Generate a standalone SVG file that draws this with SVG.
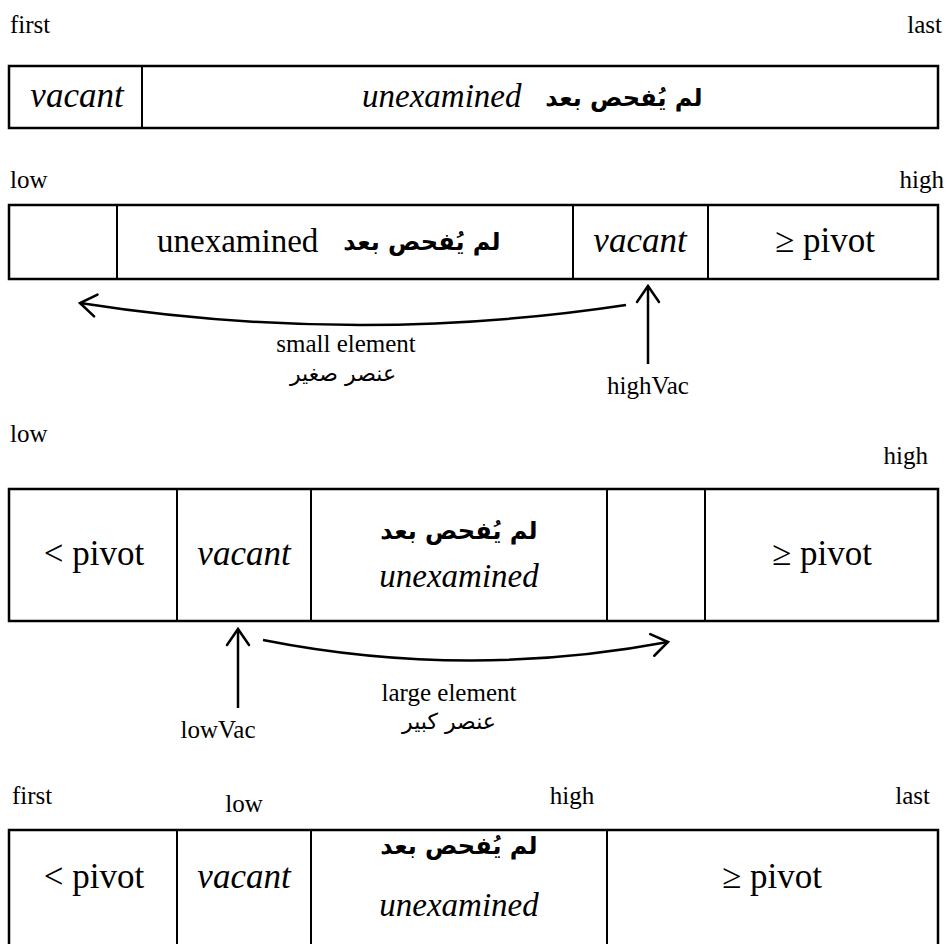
<svg xmlns="http://www.w3.org/2000/svg" width="947" height="944" viewBox="0 0 947 944">
  <style>
    .box { fill: #fff; stroke: #000; stroke-width: 2.5; }
    .div { stroke: #000; stroke-width: 2; }
    .lbl { font-family: "Liberation Serif", "Times New Roman", serif; font-size: 25px; fill: #000; }
    .cell { font-family: "Liberation Serif", "Times New Roman", serif; font-size: 35px; fill: #000; }
    .sm { font-size: 33px; }
    .it { font-style: italic; }
    .ar { font-family: "DejaVu Sans", "Noto Sans", sans-serif; font-weight: bold; font-size: 24px; fill: #000; }
    .arr { font-family: "DejaVu Sans", "Noto Sans", sans-serif; font-size: 22px; fill: #000; }
    .link { fill: none; stroke: #000; stroke-width: 2.5; }
    .mid { text-anchor: middle; }
    .end { text-anchor: end; }
  </style>
  <defs>
    <marker id="head" markerUnits="userSpaceOnUse" markerWidth="30" markerHeight="30" refX="20" refY="15" orient="auto" overflow="visible">
      <path d="M4,4 L20,15 L4,26" fill="none" stroke="#000" stroke-width="2.5" stroke-linecap="round"/>
    </marker>
  </defs>

  <!-- stage 1: whole range unexamined -->
  <g id="stage1">
    <text class="lbl" x="10" y="33">first</text>
    <text class="lbl end" x="942" y="33">last</text>
    <rect class="box" x="9" y="66" width="929" height="62"/>
    <line class="div" x1="142" y1="66" x2="142" y2="128"/>
    <text class="cell it mid" x="77" y="107">vacant</text>
    <text class="cell sm it" x="362" y="107">unexamined</text>
    <text class="ar mid" x="624" y="106">لم يُفحص بعد</text>
  </g>

  <!-- stage 2: scanning from the high end -->
  <g id="stage2">
    <text class="lbl" x="10" y="188">low</text>
    <text class="lbl end" x="944" y="188">high</text>
    <rect class="box" x="9" y="205" width="929" height="74"/>
    <line class="div" x1="117" y1="205" x2="117" y2="279"/>
    <line class="div" x1="573" y1="205" x2="573" y2="279"/>
    <line class="div" x1="708" y1="205" x2="708" y2="279"/>
    <text class="cell sm" x="157" y="252">unexamined</text>
    <text class="ar mid" x="422" y="250">لم يُفحص بعد</text>
    <text class="cell it mid" x="640" y="252">vacant</text>
    <text class="cell mid" x="825" y="252">≥ pivot</text>
    <text class="lbl mid" x="346" y="352">small element</text>
    <text class="arr mid" x="343" y="381">عنصر صغير</text>
    <text class="lbl mid" x="648" y="394">highVac</text>
  </g>

  <!-- stage 3: scanning from the low end -->
  <g id="stage3">
    <text class="lbl" x="10" y="442">low</text>
    <text class="lbl end" x="928" y="464">high</text>
    <rect class="box" x="9" y="489" width="929" height="132"/>
    <line class="div" x1="177" y1="489" x2="177" y2="621"/>
    <line class="div" x1="311" y1="489" x2="311" y2="621"/>
    <line class="div" x1="607" y1="489" x2="607" y2="621"/>
    <line class="div" x1="705" y1="489" x2="705" y2="621"/>
    <text class="cell mid" x="94" y="565">&lt; pivot</text>
    <text class="cell it mid" x="244" y="565">vacant</text>
    <text class="ar mid" x="459" y="539">لم يُفحص بعد</text>
    <text class="cell sm it mid" x="459" y="587">unexamined</text>
    <text class="cell mid" x="822" y="565">≥ pivot</text>
    <text class="lbl mid" x="449" y="701">large element</text>
    <text class="arr mid" x="449" y="729">عنصر كبير</text>
    <text class="lbl mid" x="218" y="738">lowVac</text>
  </g>

  <!-- stage 4: final partition (the frame runs past the lower edge) -->
  <g id="stage4">
    <text class="lbl" x="12" y="804">first</text>
    <text class="lbl mid" x="244" y="812">low</text>
    <text class="lbl mid" x="572" y="804">high</text>
    <text class="lbl end" x="930" y="804">last</text>
    <rect class="box" x="9" y="830" width="929" height="132"/>
    <line class="div" x1="177" y1="830" x2="177" y2="962"/>
    <line class="div" x1="311" y1="830" x2="311" y2="962"/>
    <line class="div" x1="607" y1="830" x2="607" y2="962"/>
    <text class="cell mid" x="94" y="888">&lt; pivot</text>
    <text class="cell it mid" x="244" y="888">vacant</text>
    <text class="ar mid" x="459" y="854">لم يُفحص بعد</text>
    <text class="cell sm it mid" x="459" y="916">unexamined</text>
    <text class="cell mid" x="772" y="888">≥ pivot</text>
  </g>

  <!-- element moves and vacancy pointers -->
  <g id="connectors">
    <path class="link" d="M626,305 Q355,346 80,303" marker-end="url(#head)"/>
    <line class="link" x1="648" y1="364" x2="648" y2="286" marker-end="url(#head)"/>
    <path class="link" d="M263,640 Q465,680 668,642" marker-end="url(#head)"/>
    <line class="link" x1="238" y1="708" x2="238" y2="629" marker-end="url(#head)"/>
  </g>
</svg>
